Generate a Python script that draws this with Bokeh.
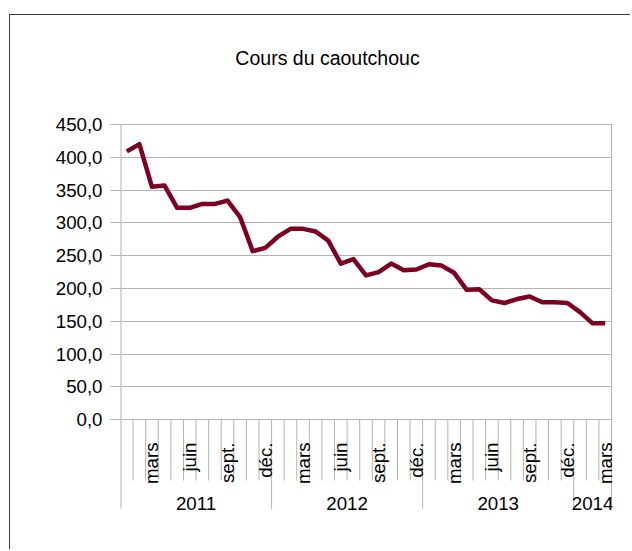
import math
from bokeh.plotting import figure
from bokeh.models import Range1d, FixedTicker
from bokeh.core.properties import value
from bokeh.embed import file_html
from bokeh.resources import INLINE

# ---------------- data ----------------
title_text = "Cours du caoutchouc"
years = ["2011", "2012", "2013", "2014"]
months_in_year = [12, 12, 12, 3]
month_labels = ["", "", "mars", "", "", "juin", "", "", "sept.", "", "", "déc."]
prices = [409, 420, 355, 357, 323, 323, 329, 329, 334, 309, 257, 262,
          279, 291, 291, 287, 273, 238, 245, 220, 225, 238, 228, 229,
          237, 235, 224, 198, 199, 182, 178, 184, 188, 179, 179, 178,
          164, 147, 147]
y_ticks = [0, 50, 100, 150, 200, 250, 300, 350, 400, 450]
y_tick_labels = ["0,0", "50,0", "100,0", "150,0", "200,0", "250,0",
                 "300,0", "350,0", "400,0", "450,0"]

# ---------------- style / layout ----------------
FONT = "Liberation Sans"
FS = "18.7px"
TITLE_FS = "19.5px"
LINE_COLOR = "#7e0021"
GRID = "#b3b3b3"
BORDER = "#3c3c3c"

n = len(prices)
W, H = 621, 535
ML, MT = 110, 5
FW, FH = 492, 516
PX_PER_MONTH = 491 / n
PX_PER_UNIT = 295.3 / 450
ZERO_FROM_TOP = 399.3

y_end = ZERO_FROM_TOP / PX_PER_UNIT
y_start = y_end - FH / PX_PER_UNIT
x_end = FW / PX_PER_MONTH


def below(px):
    return -px / PX_PER_UNIT


p = figure(width=W, height=H,
           x_range=Range1d(0, x_end), y_range=Range1d(y_start, y_end),
           x_axis_location=None, y_axis_location="left",
           min_border_left=ML, min_border_right=W - ML - FW,
           min_border_top=MT, min_border_bottom=H - MT - FH,
           toolbar_location=None, output_backend="svg",
           outline_line_color=None,
           background_fill_color="white", border_fill_color="white")
p.styles = {"border-top": f"1px solid {BORDER}", "border-left": f"1px solid {BORDER}",
            "border-right": "none", "border-bottom": "none", "overflow": "hidden"}
p.margin = (14, 0, 0, 9)
p.xgrid.visible = False

# y axis
ax = p.yaxis[0]
ax.ticker = FixedTicker(ticks=y_ticks)
ax.major_label_overrides = {t: l for t, l in zip(y_ticks, y_tick_labels)}
ax.axis_line_color = None
ax.major_tick_in = 0
ax.major_tick_out = 10
ax.major_tick_line_color = GRID
ax.minor_tick_line_color = None
ax.major_label_text_font = FONT
ax.major_label_text_font_size = FS
ax.major_label_text_color = "black"
ax.major_label_standoff = 8

p.ygrid.grid_line_color = GRID
p.ygrid.grid_line_width = 1

# category boundaries
year_bounds = [0]
for c in months_in_year:
    year_bounds.append(year_bounds[-1] + c)
bx, btop, bbot = [], [], []
for b in range(1, n):
    bx.append(b)
    btop.append(0)
    bbot.append(below(89) if b in year_bounds else below(60.7))
p.segment(x0=bx, y0=btop, x1=bx, y1=bbot, line_color=GRID, line_width=1)
# outer vertical edges
p.segment(x0=[0], y0=[y_ticks[-1]], x1=[0], y1=[below(89)], line_color=GRID, line_width=2)
p.segment(x0=[n], y0=[y_ticks[-1]], x1=[n], y1=[below(89)], line_color=GRID, line_width=1)

# data line
xs = [i + 0.5 for i in range(n)]
p.line(x=xs, y=prices, line_color=LINE_COLOR, line_width=4.5, line_join="round")

# month labels
mx, mt = [], []
for i in range(n):
    lab = month_labels[i % 12]
    if lab:
        mx.append(i + 0.5)
        mt.append(lab)
p.text(x=mx, y=[below(22.7)] * len(mx), text=mt, angle=math.pi / 2,
       text_align="right", text_baseline="middle",
       text_font=value(FONT), text_font_size=FS, text_color="black")

# year labels
yc = [(year_bounds[k] + year_bounds[k + 1]) / 2 for k in range(len(years))]
p.text(x=yc, y=[below(83.2)] * len(yc), text=years,
       text_align="center", text_baseline="middle",
       text_font=value(FONT), text_font_size=FS, text_color="black")

# title
p.text(x=[(327 - 120) / PX_PER_MONTH], y=[y_end - 37 / PX_PER_UNIT], text=[title_text],
       text_align="center", text_baseline="middle",
       text_font=value(FONT), text_font_size=TITLE_FS, text_color="black")

open("out.html", "w").write(file_html(p, INLINE))
